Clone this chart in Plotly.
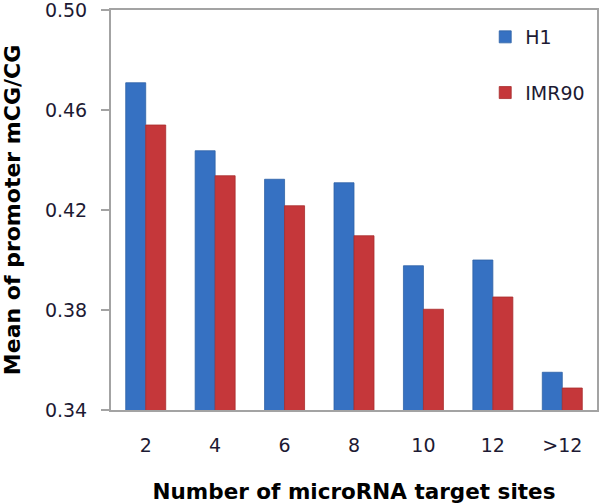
import plotly.graph_objects as go

categories = ["2", "4", "6", "8", "10", "12", ">12"]
h1_values = [0.4709, 0.4437, 0.4323, 0.4309, 0.3977, 0.4000, 0.3551]
imr90_values = [0.4540, 0.4337, 0.4217, 0.4097, 0.3803, 0.3852, 0.3488]
y_ticks = [0.34, 0.38, 0.42, 0.46, 0.50]

FONT = "DejaVu Sans, Liberation Sans, Arial, sans-serif"
TXT = "#1d1a33"
AX = "#a3a3a3"

fig = go.Figure()
fig.add_trace(go.Bar(name="H1", x=categories, y=h1_values, legendgroup="a",
                     marker=dict(color="#3671c2", line=dict(color="#2f62a6", width=0.8))))
fig.add_trace(go.Bar(name="IMR90", x=categories, y=imr90_values, legendgroup="b",
                     marker=dict(color="#c5373a", line=dict(color="#a82c2c", width=0.8))))

fig.update_layout(
    width=600, height=504,
    margin=dict(l=111, r=3, t=10, b=94, autoexpand=False),
    paper_bgcolor="white", plot_bgcolor="white",
    barmode="group", bargap=0.424, bargroupgap=0,
    font=dict(family=FONT, color=TXT, size=19),
    showlegend=True,
    legend=dict(x=0.77, y=0.98, xanchor="left", yanchor="top",
                font=dict(size=19, color=TXT), tracegroupgap=28,
                bgcolor="rgba(0,0,0,0)", itemwidth=30),
    xaxis=dict(showline=True, linecolor=AX, linewidth=2, mirror=True, automargin=False,
               ticks="", tickfont=dict(size=19), ticklabelstandoff=17,
               ticklabeloverflow="allow",
               title=dict(text="<b>Number of microRNA target sites</b>",
                          font=dict(size=21.5, color="black"), standoff=30)),
    yaxis=dict(range=[0.34, 0.50], tickvals=y_ticks, tickformat=".2f", automargin=False,
               showline=True, linecolor=AX, linewidth=2, mirror=True,
               ticks="outside", ticklen=8, tickcolor=AX, tickwidth=2,
               showgrid=False, zeroline=False, tickfont=dict(size=19),
               ticklabelstandoff=10, ticklabeloverflow="allow",
               title=dict(text="<b>Mean of promoter mCG/CG</b>",
                          font=dict(size=22, color="black"), standoff=20)),
)

fig.write_html("out.html", config={"displayModeBar": False},
               post_script="document.body.style.margin='0';document.body.style.padding='0';")
